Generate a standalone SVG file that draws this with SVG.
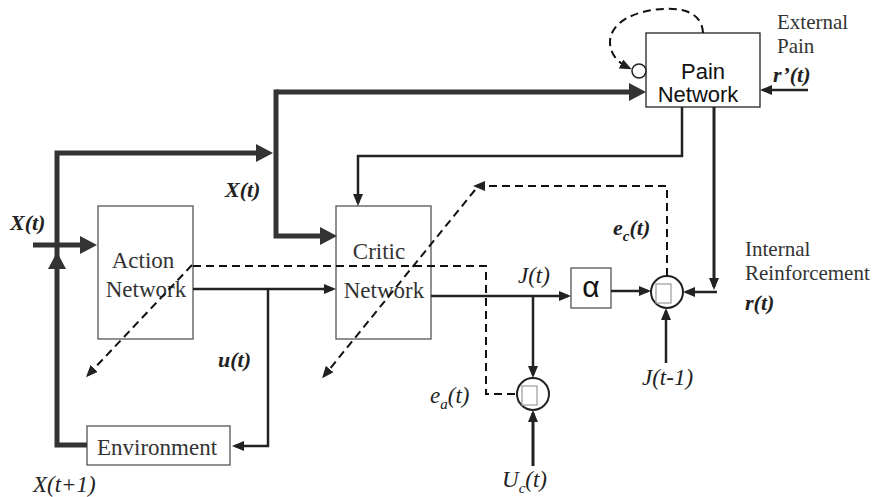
<svg xmlns="http://www.w3.org/2000/svg" width="874" height="497" viewBox="0 0 874 497">
<style>
.box{fill:#fff;stroke:#555;stroke-width:1.3}
.thick{fill:none;stroke:#333;stroke-width:5;stroke-linejoin:miter}
.norm{fill:none;stroke:#222;stroke-width:2.5}
.dash{fill:none;stroke:#111;stroke-width:2;stroke-dasharray:8 5}
.sum{fill:#fff;stroke:#222;stroke-width:2}
.glyph{fill:#fff;stroke:#999;stroke-width:1.2}
.tr{font-family:"Liberation Serif","Times New Roman",serif;fill:#333}
.ar{font-family:"Liberation Sans",Arial,sans-serif;fill:#111}
.it{font-family:"Liberation Serif","Times New Roman",serif;font-style:italic;fill:#222}
.bi{font-family:"Liberation Serif","Times New Roman",serif;font-style:italic;font-weight:bold;fill:#222}
</style>
<defs>
<marker id="aT" viewBox="0 0 17 18" markerWidth="17" markerHeight="18" refX="11" refY="9" orient="auto" markerUnits="userSpaceOnUse"><path d="M0,0 L17,9 L0,18 z" fill="#333"/></marker>
<marker id="aN" viewBox="0 0 12 10" markerWidth="12" markerHeight="10" refX="9" refY="5" orient="auto" markerUnits="userSpaceOnUse"><path d="M0,0 L12,5 L0,10 z" fill="#222"/></marker>
</defs>
<rect width="874" height="497" fill="#fff"/>

<g id="pain-network">
<rect class="box" x="646" y="33" width="114" height="74" style="stroke:#222"/>
<text class="ar" x="703" y="79" font-size="22" text-anchor="middle">Pain</text>
<text class="ar" x="698" y="102" font-size="22" text-anchor="middle">Network</text>
</g>
<g id="pain-loop-node">
<circle cx="639" cy="71" r="7" fill="#fff" stroke="#222" stroke-width="1.5"/>
</g>
<g id="action-network">
<rect class="box" x="98" y="206" width="95" height="133"/>
<text class="tr" x="143" y="268" font-size="23" text-anchor="middle">Action</text>
<text class="tr" x="146" y="297" font-size="23" text-anchor="middle">Network</text>
</g>
<g id="critic-network">
<rect class="box" x="336" y="206" width="95" height="133"/>
<text class="tr" x="379" y="259" font-size="23" text-anchor="middle">Critic</text>
<text class="tr" x="384" y="298" font-size="23" text-anchor="middle">Network</text>
</g>
<g id="environment">
<rect class="box" x="87" y="426" width="143" height="39"/>
<text class="tr" x="157" y="455" font-size="23" text-anchor="middle">Environment</text>
</g>
<g id="alpha">
<rect class="box" x="571" y="268" width="40" height="40"/>
<text class="ar" x="591" y="297" font-size="30" text-anchor="middle">α</text>
</g>
<g id="sum-c">
<circle class="sum" cx="667" cy="292" r="16"/>
<rect class="glyph" x="656" y="284" width="15" height="19"/>
</g>
<g id="sum-a">
<circle class="sum" cx="533" cy="394" r="16"/>
<rect class="glyph" x="522" y="386" width="15" height="19"/>
</g>

<g id="connectors">
<path class="thick" d="M33,245 H91" marker-end="url(#aT)"/>
<path class="thick" d="M87,445 H57 V153 H267" marker-end="url(#aT)"/>
<path class="thick" d="M57,268 V258" marker-end="url(#aT)"/>
<path class="thick" d="M276,92 H640" marker-end="url(#aT)"/>
<path class="thick" d="M276,89.5 V236 H331" marker-end="url(#aT)"/>

<path class="norm" d="M193,289 H333" marker-end="url(#aN)"/>
<path class="norm" d="M268,289 V446 H235" marker-end="url(#aN)"/>
<path class="norm" d="M682,107 V156 H358 V203" marker-end="url(#aN)"/>
<path class="norm" style="stroke-width:3" d="M714,107 V287" marker-end="url(#aN)"/>
<path class="norm" d="M717,292 H686" marker-end="url(#aN)"/>
<path class="norm" d="M431,296 H568" marker-end="url(#aN)"/>
<path class="norm" d="M611,291 H648" marker-end="url(#aN)"/>
<path class="norm" d="M666,363 V311" marker-end="url(#aN)"/>
<path class="norm" d="M533,296 V375" marker-end="url(#aN)"/>
<path class="norm" style="stroke-width:3" d="M533,466 V413" marker-end="url(#aN)"/>
<path class="norm" d="M808,90 H763" marker-end="url(#aN)"/>

<path class="dash" d="M703,33 C702,12 682,8 664,9 C636,10 610,22 610,42 C610,55 619,63 629,68" marker-end="url(#aN)"/>
<path class="dash" d="M193,266 H486 V394 H518"/>
<path class="dash" d="M192,265 L88,375" marker-end="url(#aN)"/>
<path class="dash" d="M667,276 V186 H476" marker-end="url(#aN)"/>
<path class="dash" d="M475,190 L324,376" marker-end="url(#aN)"/>
</g>

<g id="labels">
<text class="bi" x="10" y="230" font-size="22">X(t)</text>
<text class="bi" x="225" y="197" font-size="22">X(t)</text>
<text class="it" x="33" y="492" font-size="23">X(t+1)</text>
<text class="bi" x="218" y="367" font-size="22">u(t)</text>
<text class="it" x="518" y="283" font-size="23">J(t)</text>
<text class="bi" x="613" y="235" font-size="22">e<tspan font-size="15" dy="6">c</tspan><tspan dy="-6">(t)</tspan></text>
<text class="it" x="430" y="403" font-size="23">e<tspan font-size="15" dy="6">a</tspan><tspan dy="-6">(t)</tspan></text>
<text class="it" x="502" y="487" font-size="23">U<tspan font-size="15" dy="6">c</tspan><tspan dy="-6">(t)</tspan></text>
<text class="it" x="642" y="385" font-size="23">J(t-1)</text>
<text class="tr" x="745" y="256" font-size="21">Internal</text>
<text class="tr" x="745" y="280" font-size="21">Reinforcement</text>
<text class="bi" x="745" y="310" font-size="22">r(t)</text>
<text class="tr" x="777" y="29" font-size="21">External</text>
<text class="tr" x="777" y="53" font-size="21">Pain</text>
<text class="bi" x="773" y="82" font-size="22">r’(t)</text>
</g>
</svg>
